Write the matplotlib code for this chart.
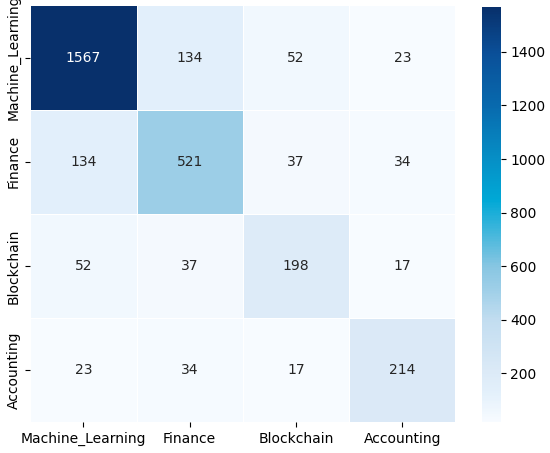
import matplotlib
matplotlib.use("Agg")
import matplotlib.pyplot as plt
import seaborn as sns
import numpy as np
from matplotlib.colors import LinearSegmentedColormap

labels = ["Machine_Learning", "Finance", "Blockchain", "Accounting"]
row_ml = [1567, 134, 52, 23]
row_fin = [134, 521, 37, 34]
row_bc = [52, 37, 198, 17]
row_acc = [23, 34, 17, 214]

matrix = np.array([row_ml, row_fin, row_bc, row_acc])

cmap = LinearSegmentedColormap.from_list("custom_blues", [
    (0.0, "#f7fbff"),
    (0.07, "#e3f0fb"),
    (0.12, "#dceaf7"),
    (0.244, "#c2ddf0"),
    (0.32, "#9ecfe8"),
    (0.374, "#88c6e2"),
    (0.536, "#00a8d6"),
    (0.633, "#0690c6"),
    (0.762, "#086aae"),
    (0.892, "#0a4f98"),
    (1.0, "#08306b"),
])

fig = plt.figure(figsize=(5.5, 4.53), dpi=100)
ax = fig.add_axes([0.055, 0.068, 0.773, 0.92])
cax = fig.add_axes([0.877, 0.068, 0.033, 0.916])
sns.heatmap(matrix, annot=True, fmt="d", cmap=cmap, ax=ax, cbar_ax=cax,
            xticklabels=labels, yticklabels=labels,
            linewidths=0.5, linecolor="white", annot_kws={"fontsize": 10})
ax.tick_params(axis="both", labelsize=10)
cax.tick_params(labelsize=10)
cax.set_yticks([200, 400, 600, 800, 1000, 1200, 1400])
for s in cax.spines.values():
    s.set_visible(False)
fig.savefig("out.png", dpi=100)
